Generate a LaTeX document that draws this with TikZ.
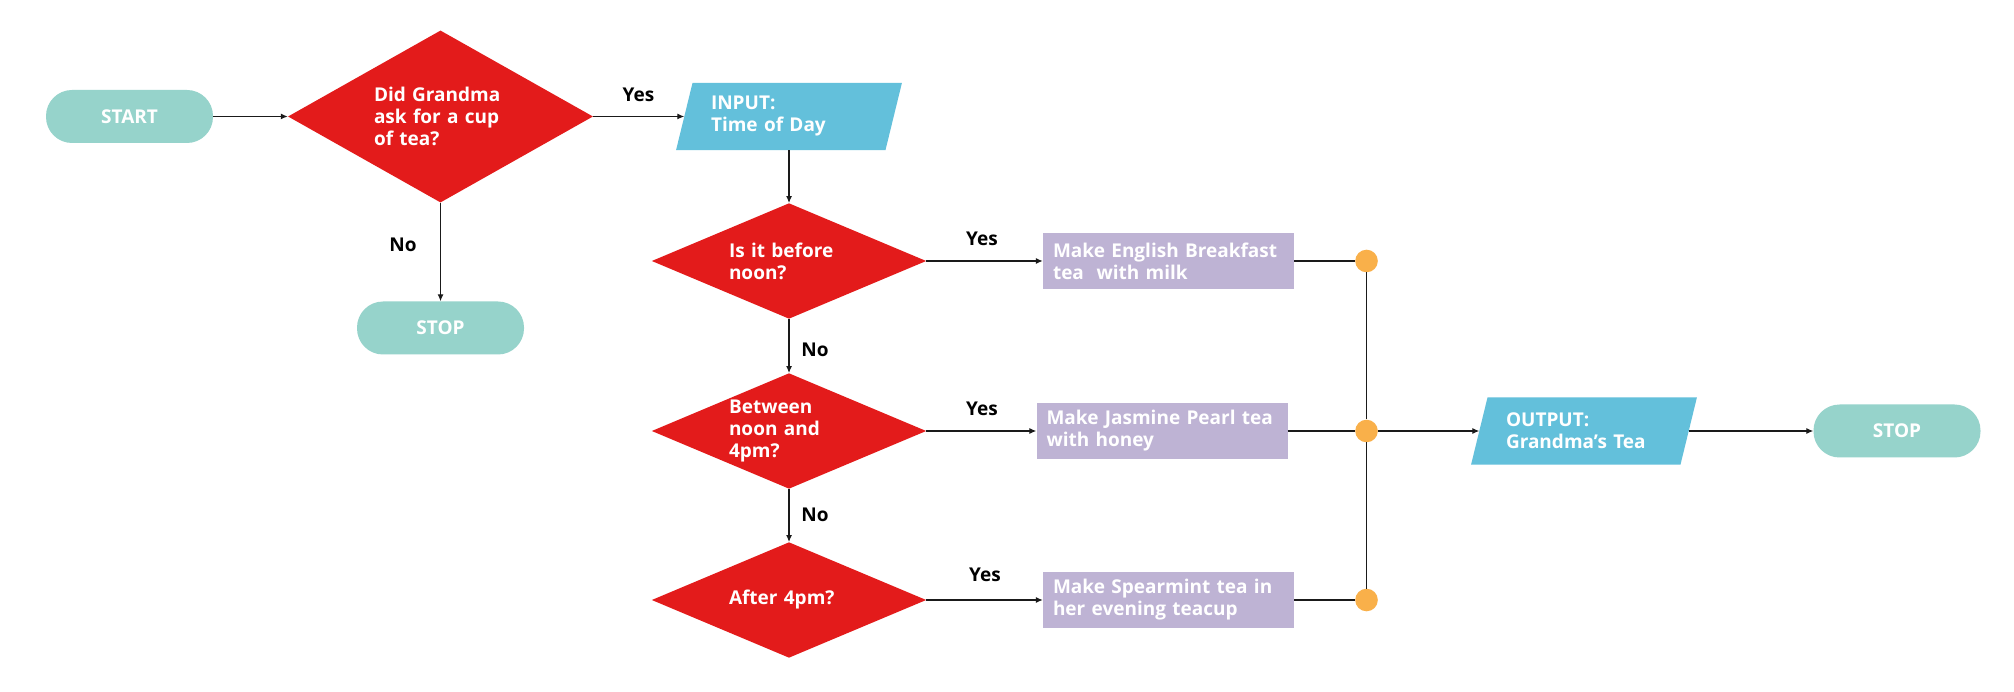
\documentclass[tikz,border=0pt]{standalone}
\usepackage{fontspec}
\setmainfont{Open Sans}
\usetikzlibrary{shapes.geometric,arrows.meta,backgrounds}

\definecolor{termcol}{HTML}{96D3CB}
\definecolor{deccol}{HTML}{E31B1B}
\definecolor{iocol}{HTML}{63C0DB}
\definecolor{proccol}{HTML}{BEB3D4}
\definecolor{dotcol}{HTML}{F9B04A}
\definecolor{linecol}{HTML}{1A1A1A}

\tikzset{
  every node/.style={font=\fontsize{19}{22}\selectfont\bfseries},
  terminal/.style={rectangle, rounded corners=26pt, fill=termcol, text=white, minimum width=167pt, minimum height=53pt, inner sep=0pt},
  decision/.style={diamond, fill=deccol, text=white, inner sep=0pt, text width=120pt, align=left, shape aspect=2.37, minimum width=274.5pt, minimum height=115.5pt},
  iobox/.style={rectangle, inner sep=0pt, minimum width=209pt, minimum height=67pt, text width=156pt, align=left, text=white},
  process/.style={rectangle, fill=proccol, text=white, minimum height=56pt, text width=231pt, inner xsep=10pt, inner ysep=0pt, align=left},
  junction/.style={circle, fill=dotcol, minimum size=22.6pt, inner sep=0pt},
  flow/.style={draw=linecol, line width=1.2pt, -{Latex[length=7pt,width=6pt]}},
  link/.style={draw=linecol, line width=1.2pt},
  answer/.style={text=black},
}

\begin{document}
\begin{tikzpicture}[x=1pt,y=-1pt]
	\useasboundingbox (0,0) rectangle (2014,692);

	\begin{scope} % start and first question
		\node[terminal] (start) at (129.5,116.5) {START};
		\node[decision, text width=133pt, shape aspect=1.77, minimum width=305pt, minimum height=172pt] (ask) at (440.5,116.5) {Did Grandma\\ask for a cup\\of tea?};
		\node[terminal] (stopa) at (440.5,328) {STOP};
		\node[iobox] (inp) at (789,116.5) {INPUT:\\Time of Day};

		\draw[flow] (start) -- (ask);
		\draw[flow] (ask) -- (inp);
		\draw[flow] (ask) -- (stopa);
		\node[answer] (yesask) at (638.5,94.5) {Yes};
		\node[answer] (noask) at (403,244.5) {No};
	\end{scope}

	\begin{scope} % time of day
		\foreach \n/\y/\bx/\lx/\ly/\q/\act in {
			1/261/1168.5/982/239/{Is it before\\noon?}/{Make English Breakfast\\tea\ \ with milk},
			2/431/1162/982/409/{Between\\noon and\\4pm?}/{Make Jasmine Pearl tea\\with honey},
			3/600/1168.5/985/575/{After 4pm?}/{Make Spearmint tea in\\her evening teacup}}
			{
				\node[decision] (q\n) at (789,\y) {\q};
				\node[process] (act\n) at (\bx,\y) {\act};
				\node[junction] (j\n) at (1366.5,\y) {};
				\draw[flow] (q\n) -- (act\n);
				\draw[link] (act\n) -- (j\n);
				\node[answer] (yes\n) at (\lx,\ly) {Yes};
			}

		\draw[flow] (inp) -- (q1);
		\draw[flow] (q1) -- (q2);
		\draw[flow] (q2) -- (q3);
		\node[answer] (no1) at (815,350) {No};
		\node[answer] (no2) at (815,515) {No};
	\end{scope}

	\begin{scope} % output
		\draw[link] (j1) -- (j2);
		\draw[link] (j2) -- (j3);
		\node[iobox] (out) at (1584,431) {OUTPUT:\\Grandma’s Tea};
		\node[terminal] (stopb) at (1897,431) {STOP};
		\draw[flow] (j2) -- (out);
		\draw[flow] (out) -- (stopb);
	\end{scope}

	\begin{scope}[on background layer]
		\fill[white] (0,0) rectangle (2014,692);
		\foreach \p in {inp,out}
			\fill[iocol] ([xshift=8.25pt]\p.north west) -- ([xshift=8.25pt]\p.north east)
				-- ([xshift=-8.25pt]\p.south east) -- ([xshift=-8.25pt]\p.south west) -- cycle;
	\end{scope}
\end{tikzpicture}
\end{document}
